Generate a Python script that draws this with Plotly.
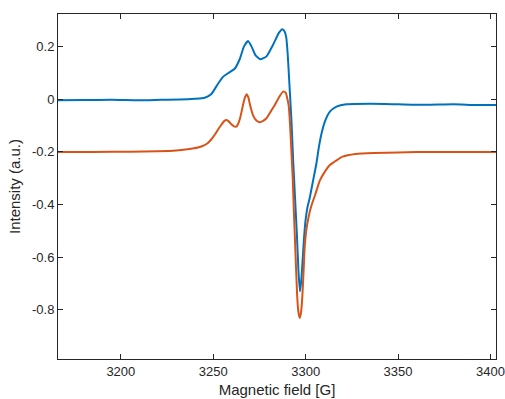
import plotly.graph_objects as go

# Blue curve (measured spectrum)
field_blue = [3166, 3180, 3195, 3210, 3222, 3232, 3240, 3245.4, 3249.0, 3252.5,
              3255.3, 3258.0, 3261.6, 3264.3, 3266.6, 3268.8, 3270.6, 3272.8, 3275.5,
              3278.8, 3282.3, 3285.6, 3287.4, 3288.7, 3289.5, 3290.3, 3291.2, 3292.3,
              3293.3, 3294.3, 3295.3, 3296.1, 3296.9, 3297.6, 3298.3, 3299.0, 3299.8,
              3301.0, 3302.2, 3304.0, 3305.8, 3307.2, 3308.6, 3310.4, 3313.1, 3316.7,
              3322, 3335, 3350, 3365, 3380, 3392, 3403]
int_blue = [-0.004, -0.003, -0.002, -0.004, -0.002, -0.001, 0.002, 0.006, 0.020, 0.058,
            0.085, 0.099, 0.116, 0.152, 0.200, 0.221, 0.202, 0.168, 0.152,
            0.163, 0.206, 0.253, 0.266, 0.257, 0.235, 0.170, 0.060, -0.080,
            -0.240, -0.380, -0.520, -0.650, -0.730, -0.690, -0.620, -0.540, -0.470,
            -0.410, -0.375, -0.310, -0.245, -0.180, -0.130, -0.085, -0.047, -0.028,
            -0.019, -0.017, -0.019, -0.021, -0.019, -0.022, -0.022]

# Orange curve (simulated spectrum, offset)
field_orange = [3166, 3185, 3205, 3220, 3230, 3236, 3241.7, 3245, 3247.1, 3249, 3250.8,
                3252.6, 3254.4, 3255.9, 3257.2, 3258.5, 3259.8, 3261.2, 3262.5, 3263.5,
                3264.5, 3265.3, 3266.1, 3267.2, 3268.1, 3269.0, 3269.7, 3270.6, 3271.5,
                3273.2, 3275.1, 3277.0, 3278.8, 3281.0, 3283.3, 3285.6, 3287.8, 3289.2,
                3290.0, 3290.8, 3291.6, 3292.3, 3293.0, 3293.6, 3294.2, 3294.8, 3295.4,
                3296.1, 3296.8, 3297.5, 3298.2, 3298.9, 3299.5, 3300.3, 3301.5, 3303.1,
                3305.3, 3307.6, 3310.4, 3313.1, 3316.7, 3320, 3327, 3337, 3350, 3370, 3403]
int_orange = [-0.200, -0.200, -0.199, -0.198, -0.195, -0.190, -0.183, -0.175, -0.166, -0.152, -0.135,
              -0.115, -0.097, -0.083, -0.079, -0.085, -0.095, -0.103, -0.104, -0.093,
              -0.072, -0.048, -0.022, 0.008, 0.019, 0.007, -0.015, -0.040, -0.060,
              -0.080, -0.087, -0.082, -0.072, -0.048, -0.022, 0.008, 0.029, 0.025,
              0.005, -0.022, -0.100, -0.200, -0.300, -0.420, -0.530, -0.640, -0.745,
              -0.810, -0.831, -0.810, -0.750, -0.650, -0.560, -0.500, -0.450, -0.405,
              -0.360, -0.310, -0.275, -0.250, -0.232, -0.218, -0.208, -0.204, -0.202, -0.200, -0.200]

x_ticks = [3200, 3250, 3300, 3350, 3400]
y_ticks = [-0.8, -0.6, -0.4, -0.2, 0, 0.2]
y_tick_labels = ["-0.8", "-0.6", "-0.4", "-0.2", "0", "0.2"]

fig = go.Figure()
fig.add_trace(go.Scatter(x=field_blue, y=int_blue, mode="lines",
                         line=dict(color="#0072BD", width=2, shape="spline", smoothing=0.5),
                         showlegend=False))
fig.add_trace(go.Scatter(x=field_orange, y=int_orange, mode="lines",
                         line=dict(color="#D95319", width=2, shape="spline", smoothing=0.5),
                         showlegend=False))

tick_font = dict(family="Liberation Sans, Arial, Helvetica, sans-serif", size=13, color="#262626")
title_font = dict(family="Liberation Sans, Arial, Helvetica, sans-serif", size=15, color="#262626")
axis_common = dict(showline=True, linecolor="#262626", linewidth=1, mirror="ticks",
                   ticks="inside", ticklen=5, tickcolor="#262626", showgrid=False,
                   zeroline=False, tickfont=tick_font, automargin=False,
                   ticklabeloverflow="allow")

fig.update_layout(
    width=505, height=399,
    margin=dict(l=58, r=9, t=14, b=40),
    paper_bgcolor="white", plot_bgcolor="white",
    xaxis=dict(range=[3166, 3403], tickvals=x_ticks,
               title=dict(text="Magnetic field [G]", font=title_font, standoff=6), **axis_common),
    yaxis=dict(range=[-0.987, 0.324], tickvals=y_ticks, ticktext=y_tick_labels,
               title=dict(text="Intensity (a.u.)", font=title_font, standoff=7), **axis_common),
)

fig.write_html("out.html", config={"displayModeBar": False},
               post_script="document.body.style.margin='0';document.body.style.overflow='hidden';")
